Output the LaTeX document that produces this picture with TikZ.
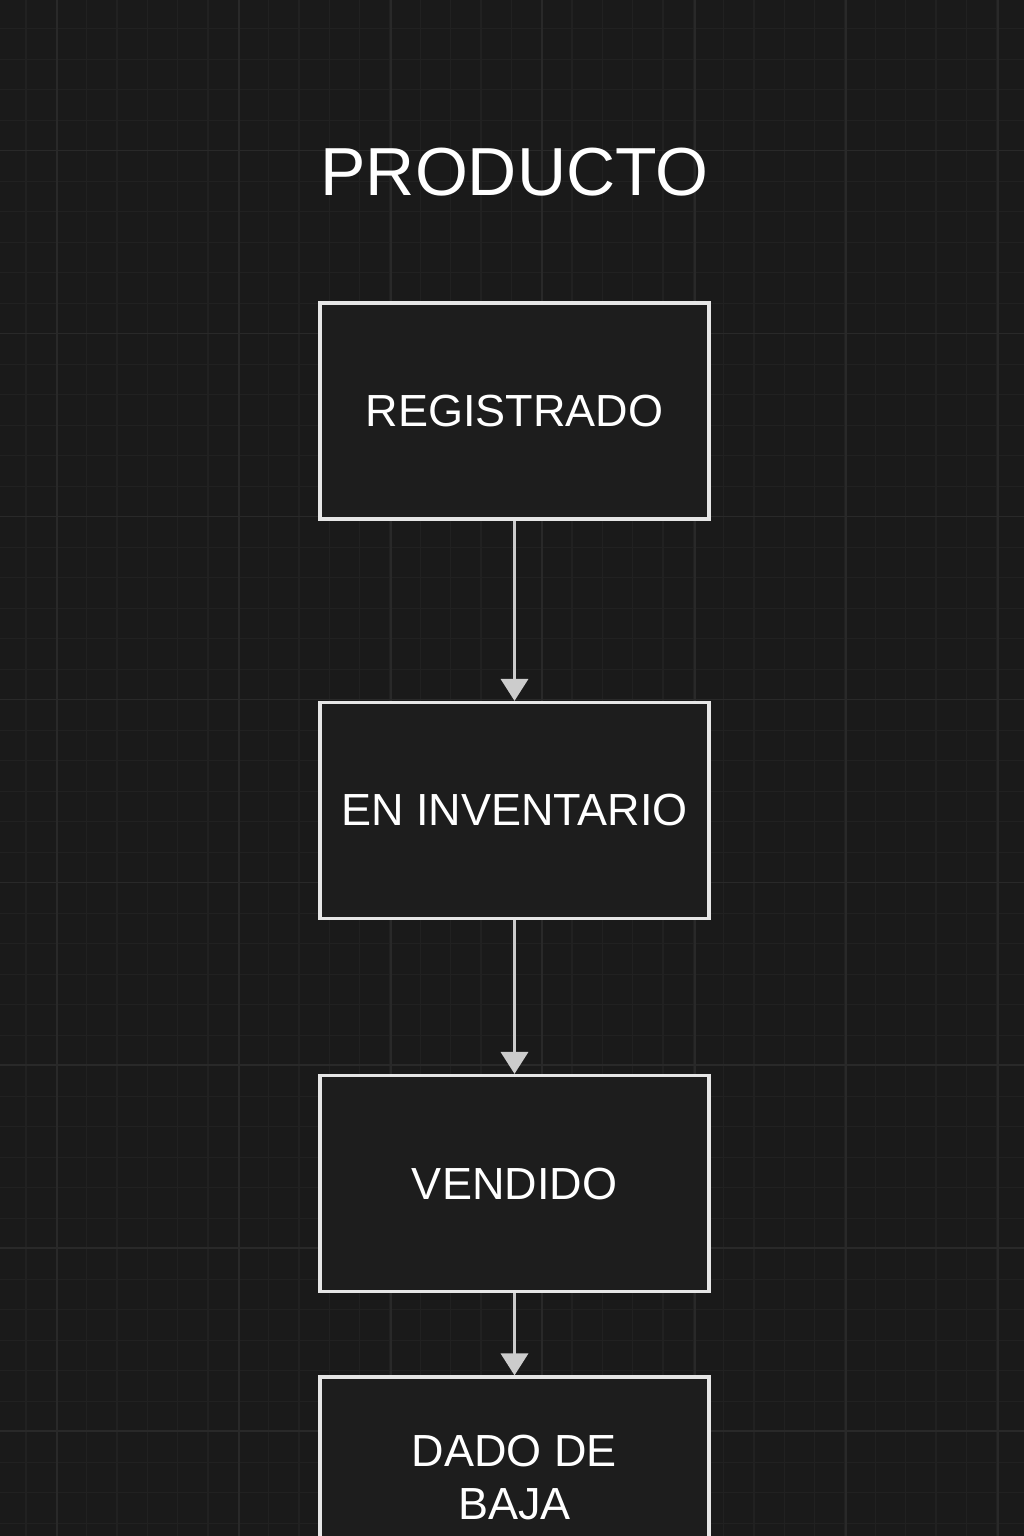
\documentclass[tikz,border=0pt]{standalone}
\usepackage{fontspec}
\setmainfont{Liberation Sans}
\usepackage{tikz}
\usetikzlibrary{positioning, arrows.meta}
\definecolor{fondo}{HTML}{1A1A1A}
\definecolor{rejilla}{HTML}{212121}
\definecolor{rejillamayor}{HTML}{292929}
\definecolor{caja}{HTML}{1D1D1D}
\definecolor{borde}{HTML}{E6E6E6}
\definecolor{flecha}{HTML}{CCCCCC}

\begin{document}
\begin{tikzpicture}[x=1pt, y=-1pt, node distance=400pt, on grid,
    estado/.style={draw=borde, line width=3.2pt, fill=caja, minimum width=389pt,
      minimum height=216pt, inner sep=0pt, text=white, align=center,
      font=\fontsize{45}{53}\selectfont},
    titulo/.style={text=white, font=\fontsize{68}{80}\selectfont},
    paso/.style={draw, color=flecha, line width=3.6pt,
      -{Triangle[width=27pt, length=22pt, fill=flecha]}}]
  \useasboundingbox (0,0) rectangle (1024,1536);
  \fill[fondo] (0,0) rectangle (1024,1536);
  % rejilla
  \foreach \i in {0,...,33}
    \draw[rejilla, line width=1.2pt] ({26+30.33*\i},0) -- ({26+30.33*\i},1536);
  \foreach \i in {0,...,49}
    \draw[rejilla, line width=1.2pt] (0,{28.7+30.5*\i}) -- (1024,{28.7+30.5*\i});
  \foreach \x in {57,239,391,542,695,846,998}
    \draw[rejillamayor, line width=1.5pt] (\x,0) -- (\x,1536);
  \foreach \i in {0,...,7}
    \draw[rejillamayor, line width=1.5pt] (0,{150.7+182.9*\i}) -- (1024,{150.7+182.9*\i});

  \node[titulo] (e_t) at (514.5,172) {PRODUCTO};
  \node[estado] (e_0) at (514.5,411) {REGISTRADO};
  \node[estado] (e_1) [below=399.5pt of e_0] {EN INVENTARIO};
  \node[estado] (e_2) [below=373pt of e_1] {VENDIDO};
  \node[estado, text depth=16pt] (e_3) [below=301.5pt of e_2] {DADO DE\\BAJA};
  \path[paso]
    (e_0) edge (e_1)
    (e_1) edge (e_2)
    (e_2) edge (e_3);
\end{tikzpicture}
\end{document}
